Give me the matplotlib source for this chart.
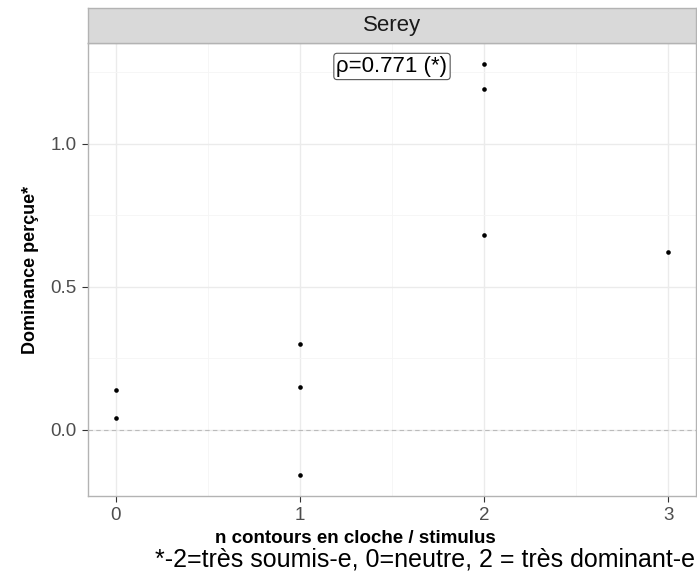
import matplotlib
matplotlib.use("Agg")
import matplotlib.pyplot as plt
from matplotlib.ticker import MultipleLocator

x_vals = [0, 0, 1, 1, 1, 2, 2, 2, 3]
y_vals = [0.14, 0.04, 0.30, 0.15, -0.16, 1.28, 1.19, 0.68, 0.62]
facet_label = "Serey"
annot_text = "ρ=0.771 (*)"
annot_x, annot_y = 1.5, 1.27
x_ticks = [0, 1, 2, 3]
y_ticks = [0.0, 0.5, 1.0]
y_tick_labels = ["0.0", "0.5", "1.0"]
x_label = "n contours en cloche / stimulus"
y_label = "Dominance perçue*"
caption = "*-2=très soumis-e, 0=neutre, 2 = très dominant-e"

W, H = 697, 571
plt.rcParams['font.family'] = ['Liberation Sans', 'DejaVu Sans']
fig = plt.figure(figsize=(W / 100, H / 100), dpi=100)

left, right, top, bottom = 88, 696, 43, 496
ax = fig.add_axes([left / W, (H - bottom) / H, (right - left) / W, (bottom - top) / H])

xr = max(x_vals) - min(x_vals)
ax.set_xlim(min(x_vals) - 0.05 * xr, max(x_vals) + 0.05 * xr)
yr = max(y_vals) - min(y_vals)
ax.set_ylim(min(y_vals) - 0.05 * yr, max(y_vals) + 0.05 * yr)

ax.set_xticks(x_ticks)
ax.set_yticks(y_ticks)
ax.set_yticklabels(y_tick_labels)
ax.xaxis.set_minor_locator(MultipleLocator(0.5))
ax.yaxis.set_minor_locator(MultipleLocator(0.25))
ax.grid(which='major', color='#EBEBEB', linewidth=1.0)
ax.grid(which='minor', color='#F5F5F5', linewidth=0.6)
ax.set_axisbelow(True)
ax.tick_params(which='minor', length=0)
ax.tick_params(which='major', length=4, color='#333333', width=0.8,
               labelsize=13.5, labelcolor='#4D4D4D', pad=4)
for s in ax.spines.values():
    s.set_color('#B3B3B3')
    s.set_linewidth(1.0)

ax.axhline(0, color='#BBBBBB', linestyle=(0, (4, 3)), linewidth=0.8, zorder=1)
ax.scatter(x_vals, y_vals, s=11, color='black', zorder=3, linewidths=0)

ax.text(annot_x, annot_y, annot_text, ha='center', va='center', fontsize=16,
        color='black',
        bbox=dict(boxstyle='round,pad=0.12,rounding_size=0.15', fc='white', ec='#555555', lw=0.8))

# facet strip
strip_top = 8
sax = fig.add_axes([left / W, (H - top) / H, (right - left) / W, (top - strip_top) / H])
sax.set_xticks([]); sax.set_yticks([])
sax.set_facecolor('#D9D9D9')
for s in sax.spines.values():
    s.set_color('#B3B3B3')
    s.set_linewidth(1.0)
sax.text(0.5, 0.5, facet_label, ha='center', va='center', fontsize=16,
         color='#1A1A1A', transform=sax.transAxes)

fig.text(355 / W, (H - 543) / H, x_label, ha='center', va='baseline',
         fontsize=13.5, fontweight='bold')
ax.set_ylabel(y_label, fontsize=13, fontweight='bold', labelpad=8.5)

fig.text(695 / W, (H - 567) / H, caption, ha='right', va='baseline',
         fontsize=18, color='black')

fig.savefig("out.png", dpi=100)
